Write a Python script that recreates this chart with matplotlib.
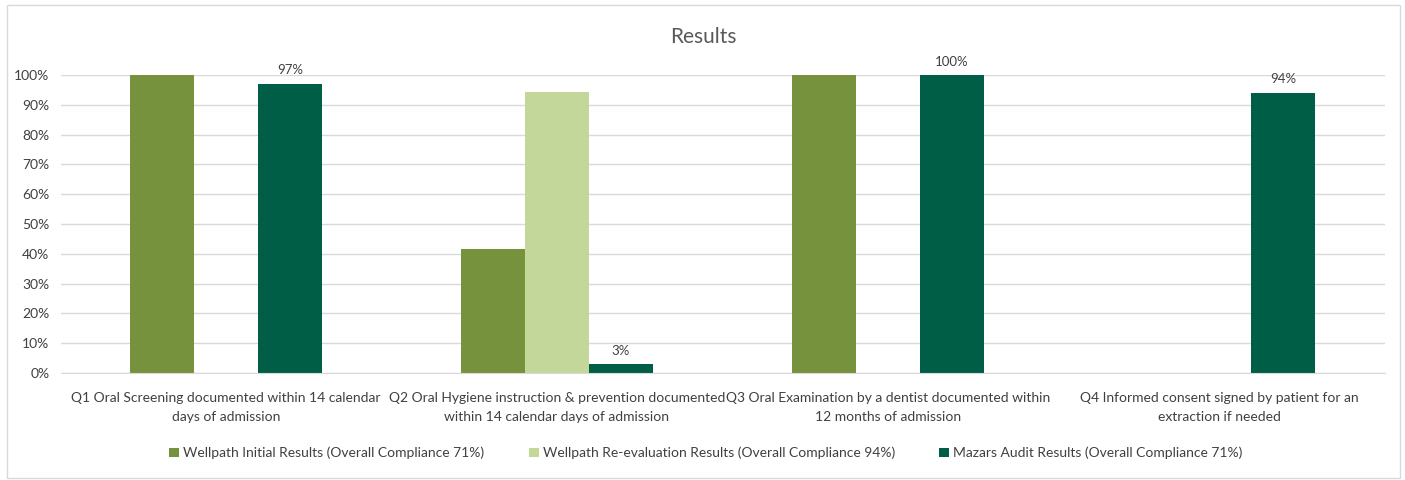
import matplotlib
matplotlib.use("Agg")
import matplotlib.pyplot as plt
from matplotlib.patches import Rectangle
from matplotlib.ticker import FuncFormatter
import numpy as np

plt.rcParams['font.family'] = ['Lato', 'DejaVu Sans']

categories = [
    "Q1 Oral Screening documented within 14 calendar\ndays of admission",
    "Q2 Oral Hygiene instruction & prevention documented\nwithin 14 calendar days of admission",
    "Q3 Oral Examination by a dentist documented within\n12 months of admission",
    "Q4 Informed consent signed by patient for an\nextraction if needed",
]
series_names = [
    "Wellpath Initial Results (Overall Compliance 71%)",
    "Wellpath Re-evaluation Results (Overall Compliance 94%)",
    "Mazars Audit Results (Overall Compliance 71%)",
]
initial = [1.00, 0.415, 1.00, 0.0]
reeval = [0.0, 0.943, 0.0, 0.0]
mazars = [0.97, 0.03, 1.00, 0.94]
mazars_labels = ["97%", "3%", "100%", "94%"]
colors = ["#76923C", "#C4D79B", "#005E46"]

fig = plt.figure(figsize=(14.05, 4.8), dpi=100)
ax = fig.add_axes([60.5/1405, 1 - 373/480, 1324/1405, 298/480])

x = np.arange(len(categories))
w = 0.1935
for i, (vals, c, name) in enumerate(zip([initial, reeval, mazars], colors, series_names)):
    bars = ax.bar(x + (i - 1) * w, vals, width=w, color=c, label=name, zorder=3)
    if i == 2:
        for b, lab in zip(bars, mazars_labels):
            ax.text(b.get_x() + b.get_width() / 2, b.get_height() + 0.025, lab,
                    ha='center', va='bottom', fontsize=9.5, color='#404040')

ax.set_xlim(-0.5, 3.5)
ax.set_ylim(0, 1.0)
ax.set_yticks(np.arange(0, 1.01, 0.1))
ax.yaxis.set_major_formatter(FuncFormatter(lambda v, p: f"{v*100:.0f}%"))
ax.set_xticks(x)
ax.set_xticklabels(categories, fontsize=10, color='#404040', linespacing=1.65)
ax.tick_params(axis='y', length=0, labelsize=10, labelcolor='#404040', pad=8)
ax.tick_params(axis='x', length=0, pad=14)
ax.grid(axis='y', color='#D9D9D9', linewidth=1, zorder=0)
for s in ['top', 'right', 'left']:
    ax.spines[s].set_visible(False)
ax.spines['bottom'].set_color('#D9D9D9')
ax.spines['bottom'].set_zorder(4)

fig.text(703/1405, 1 - 37/480, "Results", ha='center', va='center', fontsize=15, color='#595959')

leg = fig.legend(loc='center', bbox_to_anchor=(706/1405, 1 - 453/480), ncol=3, frameon=False,
                 fontsize=10, handlelength=0.7, handleheight=0.7, handletextpad=0.3,
                 columnspacing=3.2, labelcolor='#404040')

fig.patches.append(Rectangle((7/1405, 2/480), 1393/1405, 473/480, transform=fig.transFigure,
                             fill=False, edgecolor='#D9D9D9', linewidth=1))

fig.savefig("out.png", dpi=100, facecolor='white')
